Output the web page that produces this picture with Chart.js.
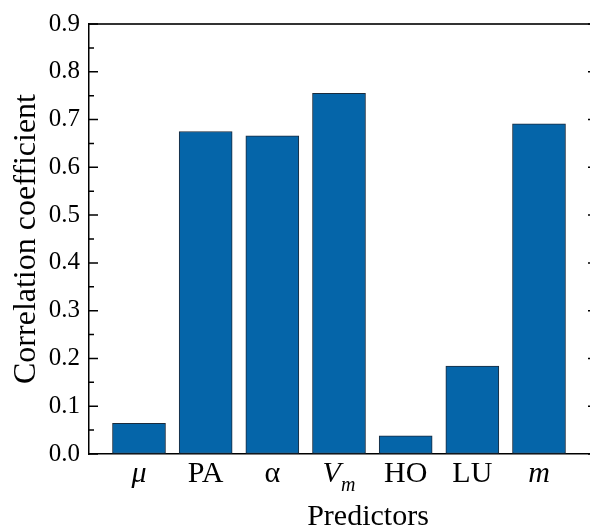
<!DOCTYPE html>
<html>
<head>
<meta charset="utf-8">
<script src="https://cdn.jsdelivr.net/npm/chart.js@4"></script>
<style>
  html, body { margin: 0; padding: 0; background: #fff; overflow: hidden; }
  #wrap { position: relative; width: 600px; height: 528px; }
</style>
</head>
<body>
<div id="wrap"><canvas id="chart" width="600" height="528"></canvas></div>
<script>
/* ---------------------------------
   DATA
--------------------------------- */
const categories = ["μ", "PA", "α", "Vm", "HO", "LU", "m"];
const correlation = [0.064, 0.675, 0.666, 0.755, 0.038, 0.184, 0.691];
const yTickLabels = ["0.0", "0.1", "0.2", "0.3", "0.4", "0.5", "0.6", "0.7", "0.8", "0.9"];
const xTitle = "Predictors";
const yTitle = "Correlation coefficient";

/* ---------------------------------
   RENDERING
--------------------------------- */
const SERIF = "'Liberation Serif', 'Times New Roman', serif";
const BLUE = "#0565a9";

// how each category label is typeset (italic symbols, subscript)
const labelStyle = {
  "μ": [{ t: "μ", italic: true }],
  "Vm": [{ t: "V", italic: true }, { t: "m", italic: true, sub: true }],
  "m": [{ t: "m", italic: true }]
};

const axisDecor = {
  id: "axisDecor",
  afterDraw(chart) {
    const { ctx, chartArea: a, scales } = chart;
    const y = scales.y;
    const x = scales.x;
    ctx.save();
    // inward ticks on left and right spines
    ctx.strokeStyle = "#000";
    ctx.lineWidth = 1.5;
    y.ticks.forEach((t) => {
      const py = y.getPixelForValue(t.value);
      const major = Math.round(t.value * 20) % 2 === 0;
      const len = major ? 9 : 5;
      ctx.beginPath();
      ctx.moveTo(a.left, py);
      ctx.lineTo(a.left + len, py);
      ctx.moveTo(a.right - len, py);
      ctx.lineTo(a.right, py);
      ctx.stroke();
    });

    // category labels
    ctx.fillStyle = "#000";
    ctx.textBaseline = "alphabetic";
    ctx.textAlign = "left";
    const base = a.bottom + 28;
    categories.forEach((c, i) => {
      const parts = labelStyle[c] || [{ t: c }];
      const fonts = parts.map((p) => `${p.italic ? "italic " : ""}${p.sub ? 20 : 30}px ${SERIF}`);
      let total = 0;
      const widths = parts.map((p, k) => {
        ctx.font = fonts[k];
        const w = ctx.measureText(p.t).width;
        total += w;
        return w;
      });
      let cx = x.getPixelForValue(i + 1) - total / 2;
      parts.forEach((p, k) => {
        ctx.font = fonts[k];
        ctx.fillText(p.t, cx, p.sub ? base + 9 : base);
        cx += widths[k];
      });
    });

    // x axis title
    ctx.font = `30px ${SERIF}`;
    ctx.textAlign = "center";
    ctx.fillText(xTitle, 368, 525);
    ctx.restore();
  }
};

function renderChart() {
  const ctx = document.getElementById("chart").getContext("2d");
  return new Chart(ctx, {
    type: "bar",
    data: {
      datasets: [
        {
          data: categories.map((c, i) => ({ x: i + 1, y: correlation[i] })),
          backgroundColor: BLUE,
          borderColor: "#1b2b3c",
          borderWidth: 1,
          borderSkipped: false,
          barThickness: 53
        }
      ]
    },
    options: {
      responsive: false,
      animation: false,
      layout: { padding: 0 },
      plugins: {
        legend: { display: false },
        tooltip: { enabled: false }
      },
      scales: {
        x: {
          type: "linear",
          position: "bottom",
          offset: false,
          min: 0.25,
          max: 7.87,
          ticks: { display: false },
          grid: { display: false, offset: false },
          border: { display: true, color: "#000", width: 1.5 },
          afterFit: (s) => { s.height = 74; }
        },
        x2: {
          type: "linear",
          position: "top",
          display: true,
          offset: false,
          min: 0.25,
          max: 7.87,
          ticks: { display: false },
          grid: { display: false },
          border: { display: true, color: "#333", width: 2 },
          afterFit: (s) => { s.height = 24; }
        },
        y: {
          min: 0,
          max: 0.9,
          ticks: {
            stepSize: 0.05,
            autoSkip: false,
            padding: 9,
            color: "#000",
            font: { family: SERIF, size: 25 },
            callback: (v) => {
              const k = Math.round(v * 20);
              return k % 2 === 0 ? yTickLabels[k / 2] : "";
            }
          },
          grid: { display: true, drawOnChartArea: false, drawTicks: false },
          border: { display: true, color: "#000", width: 1.5 },
          title: {
            display: true,
            text: yTitle,
            color: "#000",
            font: { family: SERIF, size: 32 },
            padding: { top: 7, bottom: 0 }
          },
          afterFit: (s) => { s.width = 89; }
        },
        y2: {
          position: "right",
          display: true,
          min: 0,
          max: 0.9,
          ticks: { display: false },
          grid: { display: false },
          border: { display: true, color: "#000", width: 1.5 },
          afterFit: (s) => { s.width = 3; }
        }
      }
    },
    plugins: [axisDecor]
  });
}

renderChart();
</script>
</body>
</html>
